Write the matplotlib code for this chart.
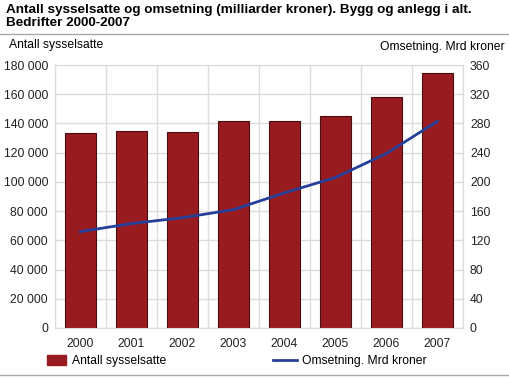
import numpy as np
import matplotlib
matplotlib.use("Agg")
import matplotlib.pyplot as plt
from matplotlib.lines import Line2D
from matplotlib.patches import Patch

plt.rcParams['font.family'] = ['Liberation Sans', 'DejaVu Sans']

years = ['2000', '2001', '2002', '2003', '2004', '2005', '2006', '2007']
sysselsatte = [133600, 134700, 134300, 141800, 141800, 145200, 158000, 174500]
omsetning = [132, 143, 151, 162, 185, 206, 239, 283]

left_ticks = list(range(0, 180001, 20000))
right_ticks = list(range(0, 361, 40))

bar_color = '#981b20'
line_color = '#263f99'
grid_color = '#dcdcdc'

fig = plt.figure(figsize=(5.10, 3.79), dpi=100)
ax = fig.add_axes([55 / 510, 1 - 328 / 379, 408 / 510, 263 / 379])
ax2 = ax.twinx()

x = np.arange(len(years))
ax.bar(x, sysselsatte, width=0.6, color=bar_color, edgecolor='#4a0d10', linewidth=0.8, zorder=3)
ax.set_xlim(-0.5, len(years) - 0.5)
ax.set_ylim(0, 180000)
ax.set_yticks(left_ticks)
ax.set_yticklabels([f"{v:,}".replace(",", " ") for v in left_ticks])
ax.set_xticks(x)
ax.set_xticklabels(years)
for b in np.arange(-0.5, len(years), 1.0):
    ax.axvline(b, color=grid_color, lw=1, zorder=1)
for t in left_ticks:
    ax.axhline(t, color=grid_color, lw=1, zorder=1)

ax2.plot(x, omsetning, color=line_color, lw=2, zorder=4)
ax2.set_ylim(0, 360)
ax2.set_yticks(right_ticks)

for a in (ax, ax2):
    a.tick_params(length=0, labelsize=8.7, colors='#222222')
    for s in a.spines.values():
        s.set_color(grid_color)
ax.tick_params(axis='y', pad=5)
ax.tick_params(axis='x', pad=7)
ax2.tick_params(axis='y', pad=5)

fig.text(0.012, 0.99, "Antall sysselsatte og omsetning (milliarder kroner). Bygg og anlegg i alt.\nBedrifter 2000-2007",
         ha='left', va='top', fontsize=9.7, fontweight='bold', linespacing=1.15)
fig.add_artist(Line2D([0, 1], [1 - 34 / 379] * 2, color='#aaaaaa', lw=1))
fig.add_artist(Line2D([0, 1], [1 - 375 / 379] * 2, color='#aaaaaa', lw=1))
fig.text(9 / 510, 1 - 45 / 379, "Antall sysselsatte", ha='left', va='center', fontsize=8.7)
fig.text(505 / 510, 1 - 47 / 379, "Omsetning. Mrd kroner", ha='right', va='center', fontsize=8.7)

h1 = Patch(facecolor=bar_color, edgecolor=bar_color)
fig.legend([h1], ["Antall sysselsatte"], loc='center left', bbox_to_anchor=(36 / 510, 1 - 361 / 379),
           frameon=False, fontsize=8.7, handlelength=1.6, handleheight=0.9, handletextpad=0.5)
h2 = Line2D([], [], color=line_color, lw=2)
fig.legend([h2], ["Omsetning. Mrd kroner"], loc='center left', bbox_to_anchor=(262 / 510, 1 - 361 / 379),
           frameon=False, fontsize=8.7, handlelength=2.0, handletextpad=0.4)

fig.savefig("out.png", dpi=100)
